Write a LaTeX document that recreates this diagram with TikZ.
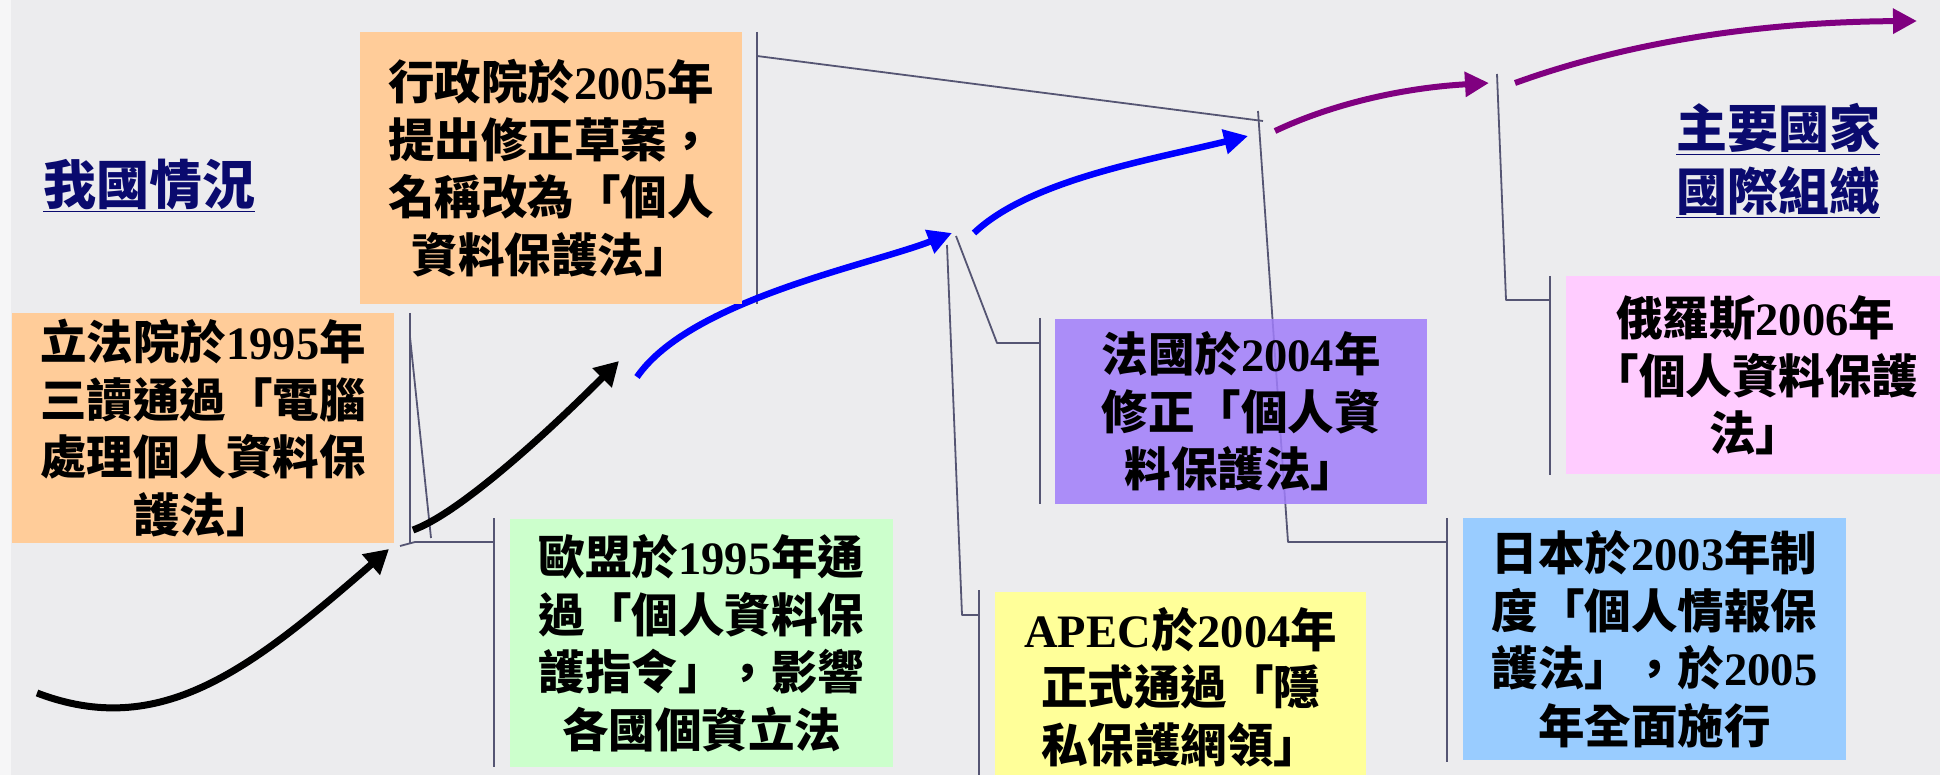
\documentclass[tikz,border=0pt]{standalone}
\usepackage{fontspec}
\setmainfont{Noto Sans CJK TC}
\newfontfamily\latinfont{Liberation Serif Bold}
\usetikzlibrary{arrows.meta}
\definecolor{bgc}{RGB}{236,236,238}
\definecolor{orangebox}{RGB}{255,204,153}
\definecolor{greenbox}{RGB}{204,255,204}
\definecolor{yellowbox}{RGB}{255,255,153}
\definecolor{violetbox}{RGB}{160,125,250}
\definecolor{bluebox}{RGB}{153,204,255}
\definecolor{pinkbox}{RGB}{255,204,255}
\definecolor{leader}{RGB}{85,85,115}
\definecolor{navy}{RGB}{10,10,110}
\definecolor{arrowpurple}{RGB}{128,0,128}
\newcommand\yr[1]{{\latinfont #1}}
\newcommand\boxfont{\fontsize{46.5}{57.5}\selectfont\bfseries}
\begin{document}
\begin{tikzpicture}[x=1pt,y=-1pt,line join=round,
  box/.style={inner sep=0pt, anchor=north west, align=center, font=\boxfont, text=black},
  leaderline/.style={draw=leader, line width=1.8pt},
  blackarrow/.style={line width=7pt, black, -{Triangle[length=24pt,width=26pt]}},
  bluearrow/.style={line width=6.5pt, blue, -{Triangle[length=24pt,width=24pt]}},
  purplearrow/.style={line width=6pt, arrowpurple, -{Triangle[length=24pt,width=24pt]}},
  title/.style={inner sep=0pt, text=navy, align=center}]
\useasboundingbox (0,0) rectangle (1940,775);
\clip (0,0) rectangle (1940,775);
\fill[bgc] (0,0) rectangle (1940,775);
\fill[white!55!bgc] (0,0) rectangle (11,775);

% junction / end coordinates
\coordinate (b1s) at (37,693);
\coordinate (b1e) at (389,549);
\coordinate (b2s) at (413,530);
\coordinate (b2e) at (619,361);
\coordinate (u1s) at (637,377);
\coordinate (u1e) at (952,233);
\coordinate (u2s) at (974,233);
\coordinate (u2e) at (1248,136);
\coordinate (p1s) at (1275,131);
\coordinate (p1e) at (1489,83);
\coordinate (p2s) at (1515,83);
\coordinate (p2e) at (1917,21);

% callout lines
\coordinate (lfT) at (410,313);
\coordinate (lfB) at (410,543);
\coordinate (lfL) at (410,337);
\coordinate (lfE) at (431,538);
\draw[leaderline] (lfT) -- (lfB);
\draw[leaderline] (lfL) -- (lfE);

\coordinate (euJ) at (400,546);
\coordinate (euK) at (415,542);
\coordinate (euM) at (494,542);
\coordinate (euT) at (494,518);
\coordinate (euB) at (494,767);
\draw[leaderline] (euJ) -- (euK) -- (euM);
\draw[leaderline] (euT) -- (euB);

\coordinate (xzT) at (757,32);
\coordinate (xzB) at (757,304);
\coordinate (xzL) at (757,56);
\coordinate (xzE) at (1263,121);
\draw[leaderline] (xzT) -- (xzB);
\draw[leaderline] (xzL) -- (xzE);

\coordinate (frJ) at (956,236);
\coordinate (frK) at (997,343);
\coordinate (frM) at (1040,343);
\coordinate (frT) at (1040,318);
\coordinate (frB) at (1040,504);
\draw[leaderline] (frJ) -- (frK) -- (frM);
\draw[leaderline] (frT) -- (frB);

\coordinate (apJ) at (947,245);
\coordinate (apK) at (962,615);
\coordinate (apM) at (979,615);
\coordinate (apT) at (979,590);
\coordinate (apB) at (979,780);
\draw[leaderline] (apJ) -- (apK) -- (apM);
\draw[leaderline] (apT) -- (apB);

\coordinate (ruJ) at (1497,74);
\coordinate (ruK) at (1506,300);
\coordinate (ruM) at (1550,300);
\coordinate (ruT) at (1550,276);
\coordinate (ruB) at (1550,475);
\draw[leaderline] (ruJ) -- (ruK) -- (ruM);
\draw[leaderline] (ruT) -- (ruB);

% Japan callout (seen faintly through the France box)
\coordinate (jpJ) at (1258,111);
\coordinate (jpK) at (1288,542);
\coordinate (jpM) at (1447,542);
\coordinate (jpT) at (1447,518);
\coordinate (jpB) at (1447,762);
\draw[leaderline] (jpJ) -- (jpK) -- (jpM);
\draw[leaderline] (jpT) -- (jpB);

% arrows
\draw[blackarrow] (b1s) .. controls (160,740) and (250,670) .. (b1e);
\draw[blackarrow] (b2s) .. controls (455,515) and (535,445) .. (b2e);
\draw[bluearrow] (u1s) .. controls (690,300) and (870,265) .. (u1e);
\draw[bluearrow] (u2s) .. controls (1030,180) and (1150,160) .. (u2e);
\draw[purplearrow] (p1s) .. controls (1330,105) and (1400,88) .. (p1e);
\draw[purplearrow] (p2s) .. controls (1620,45) and (1750,22) .. (p2e);

% boxes
\node[box, fill=orangebox, minimum width=382pt, minimum height=230pt] (lifa) at (12,313)
  {立法院於\yr{1995}年\\三讀通過「電腦\\處理個人資料保\\護法」};
\node[box, fill=orangebox, minimum width=382pt, minimum height=272pt] (xingzheng) at (360,32)
  {行政院於\yr{2005}年\\提出修正草案，\\名稱改為「個人\\資料保護法」};
\node[box, fill=greenbox, minimum width=383pt, minimum height=248pt] (eu) at (510,519)
  {歐盟於\yr{1995}年通\\過「個人資料保\\護指令」，影響\\各國個資立法};
\node[box, fill=yellowbox, minimum width=371pt, minimum height=190pt] (apec) at (995,592)
  {\yr{APEC}於\yr{2004}年\\正式通過「隱\\私保護網領」};
\node[box, fill=violetbox, fill opacity=0.85, text opacity=1, minimum width=372pt, minimum height=185pt] (france) at (1055,319)
  {法國於\yr{2004}年\\修正「個人資\\料保護法」};
\node[box, fill=bluebox, minimum width=383pt, minimum height=242pt] (japan) at (1463,518)
  {日本於\yr{2003}年制\\度「個人情報保\\護法」，於\yr{2005}\\年全面施行};
\node[box, fill=pinkbox, minimum width=379pt, minimum height=198pt] (russia) at (1566,276)
  {俄羅斯\yr{2006}年\\「個人資料保護\\法」};

% titles
\node[title, anchor=south, font=\fontsize{53}{60}\selectfont\bfseries] (ourtitle) at (149,212)
  {\underline{我國情況}};
\node[title, anchor=south, font=\fontsize{51}{63}\selectfont\bfseries] (worldtitle) at (1778,218)
  {\underline{主要國家}\\\underline{國際組織}};
\end{tikzpicture}
\end{document}
